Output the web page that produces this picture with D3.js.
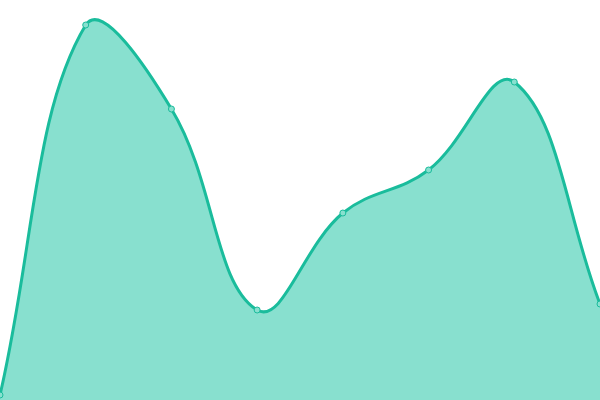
<!DOCTYPE html>
<html lang="en">
<head>
  <meta charset="UTF-8" />
  <title>Area</title>
  <script src="https://d3js.org/d3.v7.min.js"></script>
  <style>
    body { margin: 0; background: #fff; }
    svg { display: block; }
  </style>
</head>
<body>
  <svg width="600" height="400"></svg>
  <script>
    // Data
    const labels = ["A", "B", "C", "D", "E", "F", "G", "H"];
    const values = [5, 375, 291, 90, 187, 230, 318, 96];

    const svg = d3.select("svg");
    const width = +svg.attr("width");
    const height = +svg.attr("height");

    const x = d3.scalePoint().domain(labels).range([0, width]);
    const y = d3.scaleLinear().domain([0, 400]).range([height, 0]);

    const data = labels.map((l, i) => ({ label: l, value: values[i] }));

    // spline with distance-weighted tangents (tension 0.4), control points kept inside the plot
    function splineCurve(tension) {
      return function(context) {
        return {
          areaStart() { this._line = 0; },
          areaEnd() { this._line = NaN; },
          lineStart() { this._pts = []; },
          point(px, py) { this._pts.push([+px, +py]); },
          lineEnd() {
            const p = this._pts, n = p.length;
            if (n) {
              const cps = p.map((cur, i) => {
                const prev = p[i - 1] || cur, next = p[i + 1] || cur;
                const d01 = Math.hypot(cur[0] - prev[0], cur[1] - prev[1]);
                const d12 = Math.hypot(next[0] - cur[0], next[1] - cur[1]);
                let s01 = d01 / (d01 + d12), s12 = d12 / (d01 + d12);
                if (isNaN(s01)) s01 = 0;
                if (isNaN(s12)) s12 = 0;
                const fa = tension * s01, fb = tension * s12;
                const dx = next[0] - prev[0], dy = next[1] - prev[1];
                const cap = (v, lo, hi) => Math.max(lo, Math.min(hi, v));
                return {
                  a: [cap(cur[0] - fa * dx, 0, width), cap(cur[1] - fa * dy, 0, height)],
                  b: [cap(cur[0] + fb * dx, 0, width), cap(cur[1] + fb * dy, 0, height)]
                };
              });
              if (this._line) context.lineTo(p[0][0], p[0][1]);
              else context.moveTo(p[0][0], p[0][1]);
              for (let i = 1; i < n; i++) {
                context.bezierCurveTo(cps[i - 1].b[0], cps[i - 1].b[1],
                                      cps[i].a[0], cps[i].a[1], p[i][0], p[i][1]);
              }
            }
            if (this._line || (this._line !== 0 && n === 1)) context.closePath();
            this._line = 1 - this._line;
          }
        };
      };
    }

    const curve = splineCurve(0.4);

    const area = d3.area()
      .x(d => x(d.label))
      .y0(y(0))
      .y1(d => y(d.value))
      .curve(curve);

    const line = d3.line()
      .x(d => x(d.label))
      .y(d => y(d.value))
      .curve(curve);

    svg.append("path")
      .datum(data)
      .attr("d", area)
      .attr("fill", "#88e0cf");

    svg.append("path")
      .datum(data)
      .attr("d", line)
      .attr("fill", "none")
      .attr("stroke", "#1abc9c")
      .attr("stroke-width", 3);

    svg.selectAll("circle")
      .data(data)
      .join("circle")
      .attr("cx", d => x(d.label))
      .attr("cy", d => y(d.value))
      .attr("r", 3)
      .attr("fill", "#88e0cf")
      .attr("stroke", "#1abc9c")
      .attr("stroke-width", 1);
  </script>
</body>
</html>
